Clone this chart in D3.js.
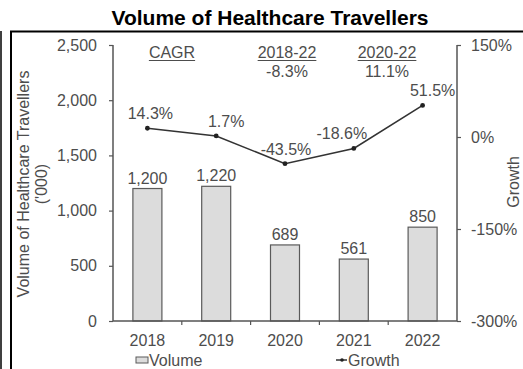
<!DOCTYPE html>
<html>
<head>
<meta charset="utf-8">
<script src="https://cdn.jsdelivr.net/npm/d3@7"></script>
<style>
  html, body { margin: 0; padding: 0; background: #fff; }
  svg { display: block; }
  text { font-family: "Liberation Sans", Arial, sans-serif; }
</style>
</head>
<body>
<script>
// Data
const years = ["2018", "2019", "2020", "2021", "2022"];
const volume = [1200, 1220, 689, 561, 850];          // '000 travellers
const growth = [14.3, 1.7, -43.5, -18.6, 51.5];       // % year-on-year
const volumeLabels = ["1,200", "1,220", "689", "561", "850"];
const growthLabels = ["14.3%", "1.7%", "-43.5%", "-18.6%", "51.5%"];
const volumeTicks = [0, 500, 1000, 1500, 2000, 2500];
const growthTicks = [-300, -150, 0, 150];
const cagrHeaders = ["CAGR", "2018-22", "2020-22"];
const cagrValues = ["", "-8.3%", "11.1%"];

const W = 523, H = 369;
const plotL = 113, plotR = 457, plotT = 45, plotB = 321;
const ink = "#4d4d4d";
const fs = 16;
const fontFam = '"Liberation Sans", Arial, sans-serif';

const svg = d3.select("body").append("svg").attr("width", W).attr("height", H);

// frame lines
svg.append("line").attr("x1", 1).attr("x2", 1).attr("y1", 31).attr("y2", H)
  .attr("stroke", "#000").attr("stroke-width", 1.5);
svg.append("line").attr("x1", 11).attr("x2", 11).attr("y1", 31).attr("y2", H)
  .attr("stroke", "#000").attr("stroke-width", 2);
svg.append("line").attr("x1", 10).attr("x2", W).attr("y1", 31.5).attr("y2", 31.5)
  .attr("stroke", "#000").attr("stroke-width", 2);

// title
svg.append("text").attr("x", 270).attr("y", 25).attr("text-anchor", "middle")
  .attr("font-size", 21).attr("font-weight", "bold").attr("fill", "#000")
  .text("Volume of Healthcare Travellers");

const xBand = d3.scaleBand().domain(years).range([plotL, plotR]);
const yL = d3.scaleLinear().domain([0, 2500]).range([plotB, plotT]);
const yR = d3.scaleLinear().domain([-300, 150]).range([plotB, plotT]);
const cx = (d, i) => xBand(years[i]) + xBand.bandwidth() / 2;
const barW = 29;

// bars
svg.append("g").selectAll("rect").data(volume).join("rect")
  .attr("x", (d, i) => cx(d, i) - barW / 2)
  .attr("width", barW)
  .attr("y", d => yL(d))
  .attr("height", d => yL(0) - yL(d))
  .attr("fill", "#dcdcdc").attr("stroke", "#5a5a5a").attr("stroke-width", 1.2);

svg.append("g").selectAll("text").data(volume).join("text")
  .attr("x", cx)
  .attr("y", d => yL(d) - 5)
  .attr("text-anchor", "middle").attr("font-size", fs).attr("fill", ink)
  .text((d, i) => volumeLabels[i]);

// left axis
const axL = svg.append("g").attr("transform", `translate(${plotL},0)`)
  .call(d3.axisLeft(yL).tickValues(volumeTicks).tickSize(4).tickPadding(12)
    .tickFormat(d3.format(",")));
axL.select(".domain").attr("stroke", "#555").attr("stroke-width", 1.5).attr("d", `M0,${plotT}V${plotB}`);
axL.selectAll(".tick line").attr("stroke", "#555").attr("stroke-width", 1.2);
axL.selectAll(".tick text").attr("font-size", fs).attr("fill", ink).style("font-family", fontFam);

// right axis
const axR = svg.append("g").attr("transform", `translate(${plotR},0)`)
  .call(d3.axisRight(yR).tickValues(growthTicks).tickSize(4).tickPadding(10)
    .tickFormat(d => d + "%"));
axR.select(".domain").attr("stroke", "#555").attr("stroke-width", 1.5).attr("d", `M0,${plotT}V${plotB}`);
axR.selectAll(".tick line").attr("stroke", "#555").attr("stroke-width", 1.2);
axR.selectAll(".tick text").attr("font-size", fs).attr("fill", ink).style("font-family", fontFam);

// x axis
const axX = svg.append("g").attr("transform", `translate(0,${plotB})`)
  .call(d3.axisBottom(xBand).tickSize(0).tickPadding(14));
axX.select(".domain").attr("stroke", "#555").attr("stroke-width", 1.5).attr("d", `M${plotL},0H${plotR}`);
axX.selectAll(".tick text").attr("font-size", fs).attr("fill", ink).style("font-family", fontFam);
// category separators
svg.append("g").selectAll("line").data(years.slice(1)).join("line")
  .attr("x1", d => xBand(d)).attr("x2", d => xBand(d))
  .attr("y1", plotB).attr("y2", plotB + 4)
  .attr("stroke", "#555").attr("stroke-width", 1.2);

// axis titles
svg.append("text").attr("transform", `translate(29,184) rotate(-90)`)
  .attr("text-anchor", "middle").attr("font-size", fs).attr("fill", ink)
  .text("Volume of Healthcare Travellers");
svg.append("text").attr("transform", `translate(47,184) rotate(-90)`)
  .attr("text-anchor", "middle").attr("font-size", fs).attr("fill", ink)
  .text("('000)");
svg.append("text").attr("transform", `translate(519,182) rotate(-90)`)
  .attr("text-anchor", "middle").attr("font-size", fs).attr("fill", ink)
  .text("Growth");

// growth line
svg.append("path").datum(growth)
  .attr("d", d3.line().x(cx).y(d => yR(d)))
  .attr("fill", "none").attr("stroke", "#333").attr("stroke-width", 1.6);
svg.append("g").selectAll("circle").data(growth).join("circle")
  .attr("cx", cx).attr("cy", d => yR(d)).attr("r", 2.4).attr("fill", "#222");

// growth labels, nudged sideways away from the line
const nudge = [3, 10, 1, -12, 10];
svg.append("g").selectAll("text").data(growth).join("text")
  .attr("x", (d, i) => cx(d, i) + nudge[i])
  .attr("y", d => yR(d) - 9)
  .attr("text-anchor", "middle").attr("font-size", fs).attr("fill", ink)
  .text((d, i) => growthLabels[i]);

// CAGR annotation
const cagrX = [172, 287, 387];
cagrHeaders.forEach((h, i) => {
  const t = svg.append("text").attr("x", cagrX[i]).attr("y", 58)
    .attr("text-anchor", "middle").attr("font-size", fs).attr("fill", ink).text(h);
  const w = t.node().getComputedTextLength();
  svg.append("line").attr("x1", cagrX[i] - w / 2).attr("x2", cagrX[i] + w / 2)
    .attr("y1", 60.5).attr("y2", 60.5).attr("stroke", ink).attr("stroke-width", 1);
  if (cagrValues[i]) {
    svg.append("text").attr("x", cagrX[i]).attr("y", 77)
      .attr("text-anchor", "middle").attr("font-size", fs).attr("fill", ink).text(cagrValues[i]);
  }
});

// legend
const lg = svg.append("g");
lg.append("rect").attr("x", 136).attr("y", 357).attr("width", 12).attr("height", 6)
  .attr("fill", "#dcdcdc").attr("stroke", "#5a5a5a").attr("stroke-width", 1);
lg.append("text").attr("x", 149).attr("y", 366).attr("font-size", fs).attr("fill", ink).text("Volume");
lg.append("line").attr("x1", 336).attr("x2", 347).attr("y1", 360).attr("y2", 360)
  .attr("stroke", "#333").attr("stroke-width", 1.5);
lg.append("circle").attr("cx", 342).attr("cy", 360).attr("r", 1.8).attr("fill", "#222");
lg.append("text").attr("x", 348).attr("y", 366).attr("font-size", fs).attr("fill", ink).text("Growth");
</script>
</body>
</html>
